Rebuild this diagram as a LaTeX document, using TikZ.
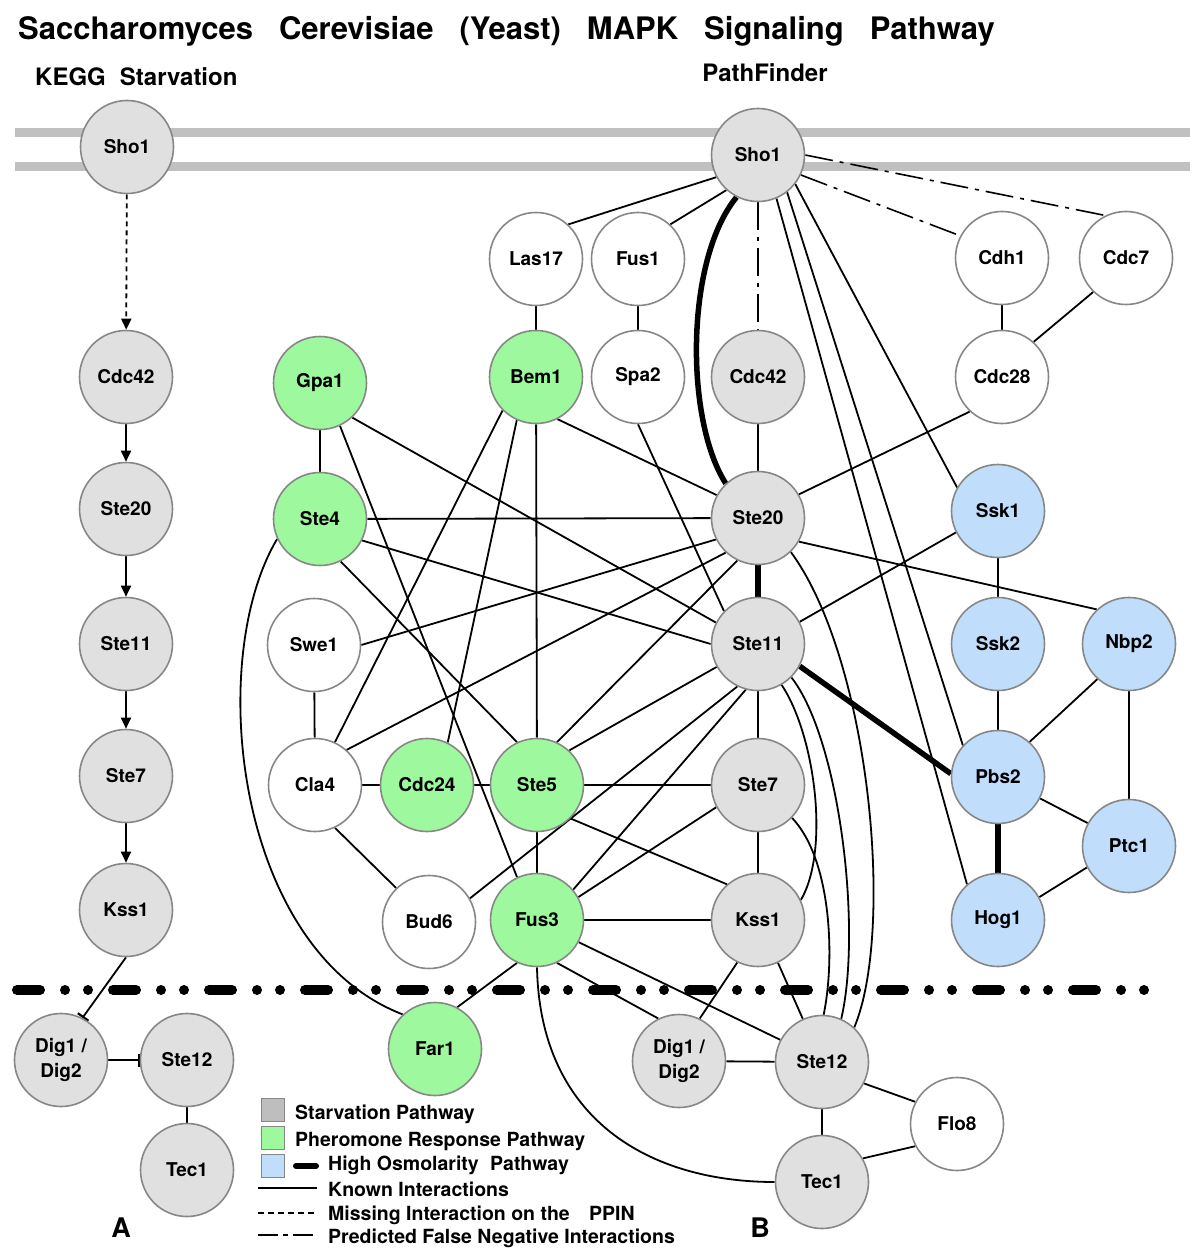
\documentclass[tikz,border=0pt]{standalone}
\usepackage{fontspec}
\setmainfont{TeX Gyre Heros}
\usetikzlibrary{arrows.meta,backgrounds}
\definecolor{ngray}{RGB}{224,224,224}
\definecolor{ngreen}{RGB}{158,248,158}
\definecolor{nblue}{RGB}{192,222,252}
\definecolor{nborder}{RGB}{135,135,135}
\definecolor{membr}{RGB}{192,192,192}
\definecolor{lgray}{RGB}{190,190,190}
\tikzset{
  prot/.style={circle, draw=nborder, line width=1.6pt, minimum size=93pt, inner sep=0pt,
    font=\fontsize{19}{25}\selectfont\bfseries, align=center},
  pg/.style={prot, fill=ngray},
  pgr/.style={prot, fill=ngreen},
  pbl/.style={prot, fill=nblue},
  pw/.style={prot, fill=white},
  edge/.style={line width=1.8pt, black},
  thickedge/.style={line width=5.5pt, black},
  ddedge/.style={line width=1.6pt, black, dash pattern=on 28pt off 7pt on 4pt off 7pt},
  arr/.style={edge, -{Triangle[length=11pt,width=10pt]}},
  inh/.style={edge, -{Bar[width=13pt,line width=2.2pt]}},
  legsq/.style={draw=nborder, line width=1.6pt, minimum size=23pt, inner sep=0pt},
  legtxt/.style={anchor=base west, font=\fontsize{19.5}{22}\selectfont\bfseries, inner sep=0pt},
}
\begin{document}
\begin{tikzpicture}[x=1pt,y=-1pt]
\useasboundingbox (0,0) rectangle (1200,1257);

% titles
\node[anchor=base west, inner sep=0pt, font=\fontsize{31}{36}\selectfont\bfseries] (title) at (18,40)
  {Saccharomyces\hspace{26pt}Cerevisiae\hspace{26pt}(Yeast)\hspace{26pt}MAPK\hspace{26pt}Signaling\hspace{26pt}Pathway};
\node[anchor=base west, inner sep=0pt, font=\fontsize{24}{28}\selectfont\bfseries] (kegg) at (35,86)
  {KEGG\hspace{14pt}Starvation};
\node[anchor=base, inner sep=0pt, font=\fontsize{24}{28}\selectfont\bfseries] (pathfinder) at (765,82) {PathFinder};
\node[anchor=base, inner sep=0pt, font=\fontsize{27}{30}\selectfont\bfseries] (labA) at (121,1237) {A};
\node[anchor=base, inner sep=0pt, font=\fontsize{27}{30}\selectfont\bfseries] (labB) at (760,1237) {B};

% ---- A: KEGG column
\node[pg] (sho1a) at (127,147) {Sho1};
\node[pg] (cdc42a) at (126,377) {Cdc42};
\node[pg] (ste20a) at (126,509) {Ste20};
\node[pg] (ste11a) at (126,644) {Ste11};
\node[pg] (ste7a) at (126,776) {Ste7};
\node[pg] (kss1a) at (126,910) {Kss1};
\node[pg] (dig1a) at (61,1060) {Dig1 /\\Dig2};
\node[pg] (ste12a) at (187,1060) {Ste12};
\node[pg] (tec1a) at (187,1170) {Tec1};

% ---- B: PathFinder network
\node[pg] (sho1b) at (758,155) {Sho1};
\node[pw] (las17) at (536,259) {Las17};
\node[pw] (fus1) at (638,259) {Fus1};
\node[pw] (cdh1) at (1002,258) {Cdh1};
\node[pw] (cdc7) at (1126,258) {Cdc7};
\node[pgr] (gpa1) at (320,383) {Gpa1};
\node[pgr] (bem1) at (536,377) {Bem1};
\node[pw] (spa2) at (638,377) {Spa2};
\node[pg] (cdc42b) at (758,377) {Cdc42};
\node[pw] (cdc28) at (1002,377) {Cdc28};
\node[pgr] (ste4) at (320,519) {Ste4};
\node[pg] (ste20b) at (758,518) {Ste20};
\node[pbl] (ssk1) at (998,511) {Ssk1};
\node[pw] (swe1) at (314,645) {Swe1};
\node[pg] (ste11b) at (758,644) {Ste11};
\node[pbl] (ssk2) at (998,644) {Ssk2};
\node[pbl] (nbp2) at (1129,644) {Nbp2};
\node[pw] (cla4) at (315,785) {Cla4};
\node[pgr] (cdc24) at (427,785) {Cdc24};
\node[pgr] (ste5) at (537,785) {Ste5};
\node[pg] (ste7b) at (758,785) {Ste7};
\node[pbl] (pbs2) at (998,777) {Pbs2};
\node[pbl] (ptc1) at (1129,846) {Ptc1};
\node[pw] (bud6) at (429,922) {Bud6};
\node[pgr] (fus3) at (537,920) {Fus3};
\node[pg] (kss1b) at (758,920) {Kss1};
\node[pbl] (hog1) at (998,920) {Hog1};
\node[pgr] (far1) at (435,1049) {Far1};
\node[pg] (dig1b) at (679,1061) {Dig1 /\\Dig2};
\node[pg] (ste12b) at (822,1062) {Ste12};
\node[pw] (flo8) at (957,1124) {Flo8};
\node[pg] (tec1b) at (822,1182) {Tec1};

% ---- legend
\node[legsq, fill=lgray] (lsq1) at (273,1110) {};
\node[legsq, fill=ngreen] (lsq2) at (273,1138) {};
\node[legsq, fill=nblue] (lsq3) at (273,1166) {};
\node[legtxt] (lt1) at (295,1119) {Starvation Pathway};
\node[legtxt] (lt2) at (295,1146) {Pheromone Response Pathway};
\node[legtxt] (lt3) at (328,1170) {High Osmolarity\hspace{6pt} Pathway};
\node[legtxt] (lt4) at (328,1196) {Known Interactions};
\node[legtxt] (lt5) at (328,1220) {Missing Interaction on the\hspace{14pt} PPIN};
\node[legtxt] (lt6) at (328,1243) {Predicted False Negative Interactions};
\coordinate (lk1) at (296,1166); \coordinate (lk2) at (316,1166);
\coordinate (lka) at (258,1188); \coordinate (lkb) at (317,1188);
\coordinate (lma) at (258,1213); \coordinate (lmb) at (317,1213);
\coordinate (lpa) at (258,1235); \coordinate (lpb) at (317,1235);
\draw[line width=6pt, line cap=round] (lk1) -- (lk2);
\draw[edge] (lka) -- (lkb);
\draw[edge, dash pattern=on 6pt off 4pt] (lma) -- (lmb);
\draw[edge, dash pattern=on 20pt off 5pt on 5pt off 5pt] (lpa) -- (lpb);

\begin{scope}[on background layer]
  \fill[white] (0,0) rectangle (1200,1257);
  % membrane
  \coordinate (m1a) at (15,133); \coordinate (m1b) at (1190,133);
  \coordinate (m2a) at (15,167); \coordinate (m2b) at (1190,167);
  \draw[membr, line width=9pt] (m1a) -- (m1b);
  \draw[membr, line width=9pt] (m2a) -- (m2b);

  % A edges
  \draw[arr, dash pattern=on 5pt off 4pt] (sho1a) -- (cdc42a);
  \draw[arr] (cdc42a) -- (ste20a);
  \draw[arr] (ste20a) -- (ste11a);
  \draw[arr] (ste11a) -- (ste7a);
  \draw[arr] (ste7a) -- (kss1a);
  \draw[inh] (kss1a.south) -- (dig1a.63);
  \draw[inh] (dig1a) -- (ste12a);
  \draw[edge] (ste12a) -- (tec1a);

  % B edges from Sho1
  \draw[edge] (sho1b.208) -- (las17.47);
  \draw[edge] (sho1b.228) -- (fus1.47);
  \draw[thickedge] (sho1b.243) .. controls (685,260) and (685,420) .. (ste20b.133);
  \draw[ddedge] (sho1b) -- (cdc42b);
  \draw[ddedge] (sho1b.335) -- (cdh1.152);
  \draw[ddedge] (sho1b.east) -- (cdc7.116);
  \draw[edge] (sho1b.322) -- (ssk1.150);
  \draw[edge] (sho1b.308) -- (pbs2.138);
  \draw[edge] (sho1b.293) -- (hog1.131);

  \draw[edge] (las17) -- (bem1);
  \draw[edge] (fus1) -- (spa2);
  \draw[edge] (cdc42b) -- (ste20b);
  \draw[edge] (cdh1) -- (cdc28);
  \draw[edge] (cdc7.226) -- (cdc28.48);
  \draw[edge] (cdc28.227) -- (ste20b.30);
  \draw[edge] (spa2.south) -- (ste11b.136);
  \draw[edge] (bem1.297) -- (ste20b.151);
  \draw[edge] (bem1) -- (ste5);
  \draw[edge] (bem1.225) -- (cla4.65);
  \draw[edge] (bem1.246) -- (cdc24.64);
  \draw[edge] (gpa1) -- (ste4);
  \draw[edge] (gpa1.313) -- (ste11b.153);
  \draw[edge] (gpa1.295) -- (fus3.115);
  \draw[edge] (ste4) -- (ste20b);
  \draw[edge] (ste4.333) -- (ste11b.west);
  \draw[edge] (ste4.296) -- (ste5.115);
  \draw[edge] (ste4.205) .. controls (205,660) and (235,950) .. (far1.133);
  \draw[edge] (swe1.east) -- (ste20b.207);
  \draw[edge] (swe1) -- (cla4);
  \draw[edge] (cla4.48) -- (ste20b.227);
  \draw[edge] (cla4) -- (cdc24);
  \draw[edge] (cla4.295) -- (bud6.134);
  \draw[edge] (cdc24) -- (ste5);
  \draw[edge] (ste5.65) -- (ste20b.244);
  \draw[edge] (ste5.47) -- (ste11b.209);
  \draw[edge] (ste5) -- (ste7b);
  \draw[edge] (ste5.315) -- (kss1b.131);
  \draw[edge] (ste5) -- (fus3);
  \draw[edge] (bud6.30) -- (ste11b.244);
  \draw[edge] (fus3.40) -- (ste11b.255);
  \draw[edge] (fus3.29) -- (ste7b.208);
  \draw[edge] (fus3) -- (kss1b);
  \draw[edge] (fus3.332) -- (ste12b.152);
  \draw[edge] (fus3.295) -- (dig1b.116);
  \draw[edge] (fus3.245) -- (far1.62);
  \draw[edge] (fus3.south) .. controls (540,1120) and (650,1182) .. (tec1b.west);
  \draw[thickedge] (ste20b) -- (ste11b);
  \draw[thickedge] (ste11b.332) -- (pbs2.176);
  \draw[thickedge] (pbs2) -- (hog1);
  \draw[edge] (ste11b) -- (ste7b);
  \draw[edge] (ste7b) -- (kss1b);
  \draw[edge] (ste11b.-60) .. controls (815,735) and (830,850) .. (kss1b.25);
  \draw[edge] (ste11b.-45) .. controls (840,740) and (862,930) .. (ste12b.66);
  \draw[edge] (ste20b.-46) .. controls (870,660) and (895,930) .. (ste12b.47);
  \draw[edge] (ste7b.-44) .. controls (832,860) and (835,960) .. (ste12b.88);
  \draw[edge] (ste20b.330) -- (nbp2.133);
  \draw[edge] (ssk1.207) -- (ste11b.28);
  \draw[edge] (ssk1) -- (ssk2);
  \draw[edge] (ssk2) -- (pbs2);
  \draw[edge] (nbp2.228) -- (pbs2.48);
  \draw[edge] (nbp2) -- (ptc1);
  \draw[edge] (pbs2.333) -- (ptc1.151);
  \draw[edge] (ptc1.207) -- (hog1.29);
  \draw[edge] (kss1b.244) -- (dig1b.64);
  \draw[edge] (kss1b.295) -- (ste12b.114);
  \draw[edge] (dig1b) -- (ste12b);
  \draw[edge] (ste12b) -- (tec1b);
  \draw[edge] (ste12b.333) -- (flo8.152);
  \draw[edge] (tec1b.30) -- (flo8.208);

  % separator
  \coordinate (sepL) at (17,990); \coordinate (sepR) at (1163,990);
  \draw[line width=10pt, line cap=round, dash pattern=on 23pt off 25pt on 0pt off 23pt on 0pt off 25pt] (sepL) -- (sepR);
\end{scope}
\end{tikzpicture}
\end{document}
